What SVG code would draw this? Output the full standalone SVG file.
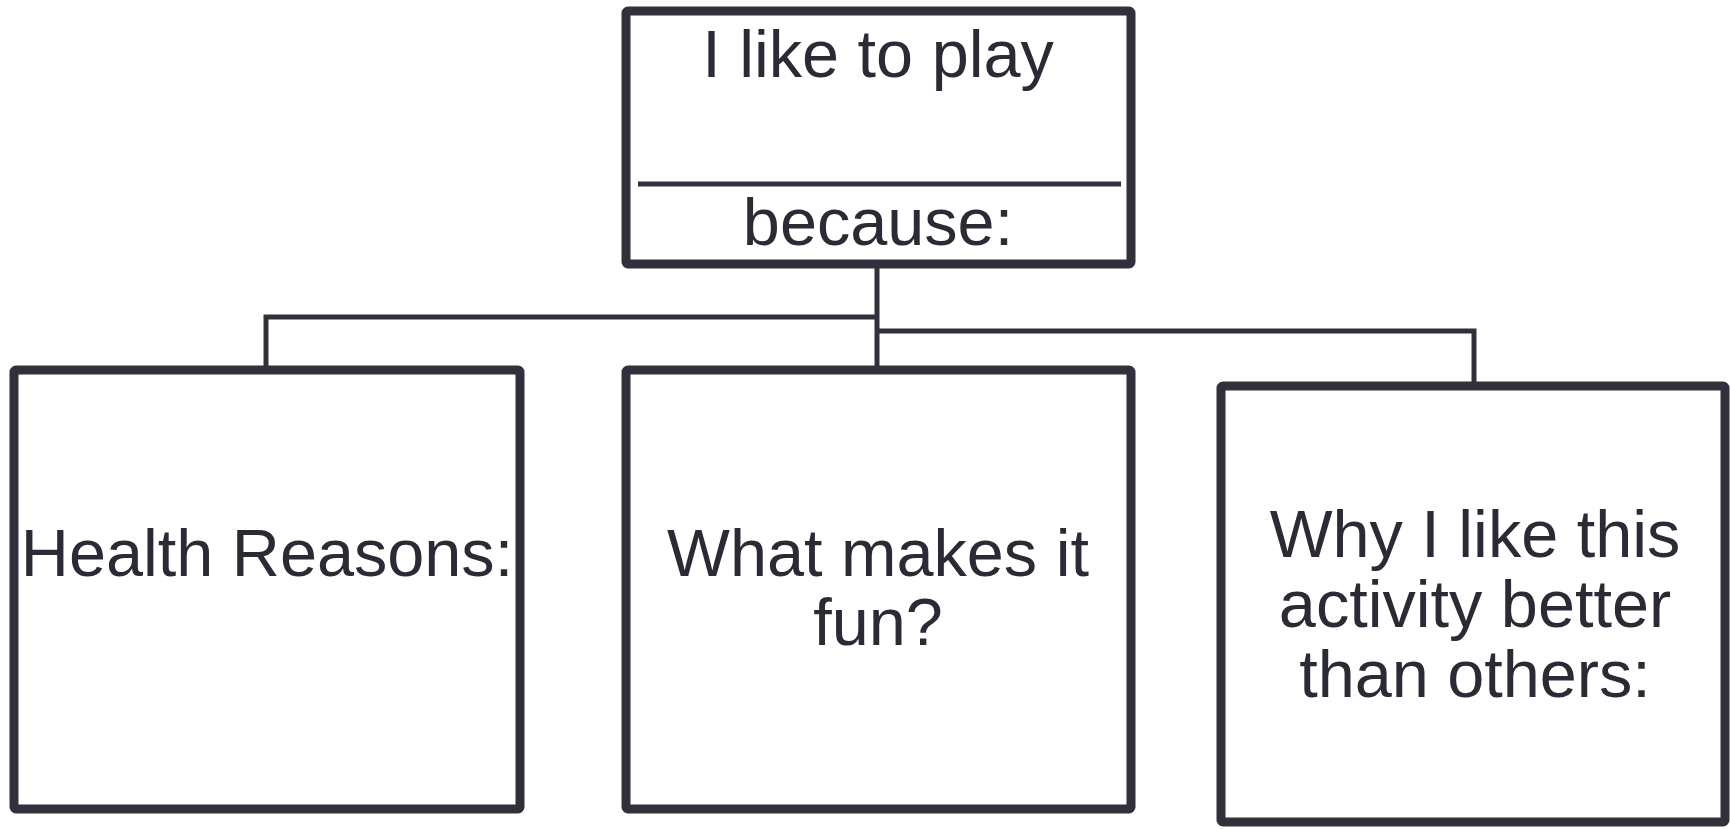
<svg xmlns="http://www.w3.org/2000/svg" width="1730" height="829" viewBox="0 0 1730 829">
<style>
.box{fill:#ffffff;stroke:#31303b;stroke-width:9;stroke-linejoin:round}
.conn{fill:none;stroke:#31303b;stroke-width:5}
.t{font-family:"Liberation Sans",Arial,sans-serif;font-size:66.6px;fill:#2b2a35;text-anchor:middle}
</style>
<rect width="1730" height="829" fill="#ffffff"/>
<g id="connectors">
<path class="conn" d="M877 264 V369"/>
<path class="conn" d="M877 317 H266 V369"/>
<path class="conn" d="M877 331 H1474 V386"/>
</g>
<g id="top">
<rect class="box" x="626" y="11" width="505" height="253" rx="2"/>
<line x1="638" y1="184" x2="1121" y2="184" stroke="#31303b" stroke-width="5"/>
<text class="t" x="878" y="77">I like to play</text>
<text class="t" x="878" y="245">because:</text>
</g>
<g id="health">
<rect class="box" x="14" y="370" width="506" height="439" rx="2"/>
<text class="t" x="267" y="576">Health Reasons:</text>
</g>
<g id="fun">
<rect class="box" x="626" y="370" width="505" height="439" rx="2"/>
<text class="t" x="878" y="576">What makes it</text>
<text class="t" x="878" y="645">fun?</text>
</g>
<g id="why">
<rect class="box" x="1221" y="386" width="504" height="436" rx="2"/>
<text class="t" x="1475" y="557">Why I like this</text>
<text class="t" x="1475" y="627">activity better</text>
<text class="t" x="1475" y="697">than others:</text>
</g>
</svg>
